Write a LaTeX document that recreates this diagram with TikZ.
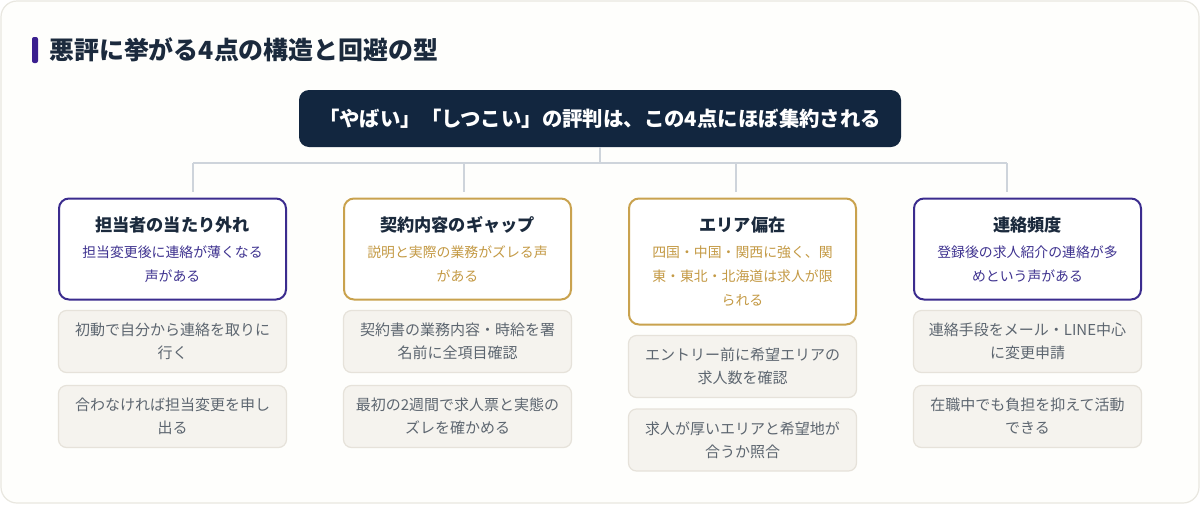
\documentclass[tikz,border=0pt]{standalone}
\usepackage{fontspec}
\setmainfont{Noto Sans CJK JP}
\definecolor{navy}{HTML}{12263F}
\definecolor{ink}{HTML}{1B2A3D}
\definecolor{purp}{HTML}{3B2C8E}
\definecolor{purptext}{HTML}{3F3390}
\definecolor{gold}{HTML}{C9A24E}
\definecolor{goldtext}{HTML}{C49A45}
\definecolor{tipfill}{HTML}{F5F3EE}
\definecolor{tipline}{HTML}{E6E2DA}
\definecolor{tiptext}{HTML}{5D6670}
\definecolor{connc}{HTML}{CED4DB}
\definecolor{cardline}{HTML}{E9E7E0}
\definecolor{cardfill}{HTML}{FEFEFC}
\definecolor{barc}{HTML}{3A1F8F}
\begin{document}
\begin{tikzpicture}[x=0.75pt,y=-0.75pt,
 card/.style={draw=cardline, fill=cardfill, line width=0.9pt, rounded corners=12pt},
 topbox/.style={fill=navy, rounded corners=7.5pt, minimum width=451.5pt, minimum height=42.75pt, inner sep=0pt, text=white, font=\bfseries\fontsize{15.3}{18}\selectfont},
 headbox/.style={draw=#1, fill=white, line width=1.5pt, rounded corners=7.5pt, minimum width=170.25pt, inner sep=0pt},
 tipbox/.style={draw=tipline, fill=tipfill, line width=0.9pt, rounded corners=6pt, minimum width=171pt, minimum height=46.5pt, inner sep=0pt, align=center, text=tiptext, font=\fontsize{11.25}{17.25}\selectfont},
 conn/.style={draw=connc, line width=1.5pt},
 htitle/.style={inner sep=0pt, text=ink, font=\bfseries\fontsize{12.9}{15}\selectfont},
 hsub/.style={inner sep=0pt, align=center, text=#1, font=\fontsize{10.4}{18}\selectfont}
]
\fill[white] (0,0) rectangle (1200,504);
\useasboundingbox (0,0) rectangle (1200,504);
\path[card] (1,1) rectangle (1199,503);
% title
\fill[barc, rounded corners=1.5pt] (32,37) rectangle (38,63);
\node[anchor=west, inner sep=0pt, text=ink, font=\bfseries\fontsize{18.7}{20}\selectfont] (title) at (49,50) {悪評に挙がる4点の構造と回避の型};
% top node
\node[topbox] (top) at (600,118.5) {「やばい」「しつこい」の評判は、この4点にほぼ集約される};
% connectors
\coordinate (hub) at (600,163);
\coordinate (j1) at (193,163);
\coordinate (j2) at (464,163);
\coordinate (j3) at (735.5,163);
\coordinate (j4) at (1007,163);
\coordinate (e1) at (193,192);
\coordinate (e2) at (464,192);
\coordinate (e3) at (735.5,192);
\coordinate (e4) at (1007,192);
\draw[conn] (top.south) -- (hub);
\draw[conn] (j1) -- (j4);
\draw[conn] (j1) -- (e1);
\draw[conn] (j2) -- (e2);
\draw[conn] (j3) -- (e3);
\draw[conn] (j4) -- (e4);
% column 1
\node[headbox=purp, minimum height=75.75pt] (h1) at (172.5,249) {};
\node[htitle] (h1t) at (172.5,225) {担当者の当たり外れ};
\node[hsub=purptext] (h1s) at (172.5,264) {担当変更後に連絡が薄くなる\\声がある};
\node[tipbox] (t1a) at (172.5,341.5) {初動で自分から連絡を取りに\\行く};
\node[tipbox] (t1b) at (172.5,416.5) {合わなければ担当変更を申し\\出る};
% column 2
\node[headbox=gold, minimum height=75.75pt] (h2) at (457.5,249) {};
\node[htitle] (h2t) at (457.5,225) {契約内容のギャップ};
\node[hsub=goldtext] (h2s) at (457.5,264) {説明と実際の業務がズレる声\\がある};
\node[tipbox] (t2a) at (457.5,341.5) {契約書の業務内容・時給を署\\名前に全項目確認};
\node[tipbox] (t2b) at (457.5,416.5) {最初の2週間で求人票と実態の\\ズレを確かめる};
% column 3
\node[headbox=gold, minimum height=94.5pt] (h3) at (742.5,261.5) {};
\node[htitle] (h3t) at (742.5,225) {エリア偏在};
\node[hsub=goldtext] (h3s) at (742.5,276) {四国・中国・関西に強く、関\\東・東北・北海道は求人が限\\られる};
\node[tipbox] (t3a) at (742.5,366.5) {エントリー前に希望エリアの\\求人数を確認};
\node[tipbox] (t3b) at (742.5,440) {求人が厚いエリアと希望地が\\合うか照合};
% column 4
\node[headbox=purp, minimum height=75.75pt] (h4) at (1027.5,249) {};
\node[htitle] (h4t) at (1027.5,225) {連絡頻度};
\node[hsub=purptext] (h4s) at (1027.5,264) {登録後の求人紹介の連絡が多\\めという声がある};
\node[tipbox] (t4a) at (1027.5,341.5) {連絡手段をメール・LINE中心\\に変更申請};
\node[tipbox] (t4b) at (1027.5,416.5) {在職中でも負担を抑えて活動\\できる};
\end{tikzpicture}
\end{document}
